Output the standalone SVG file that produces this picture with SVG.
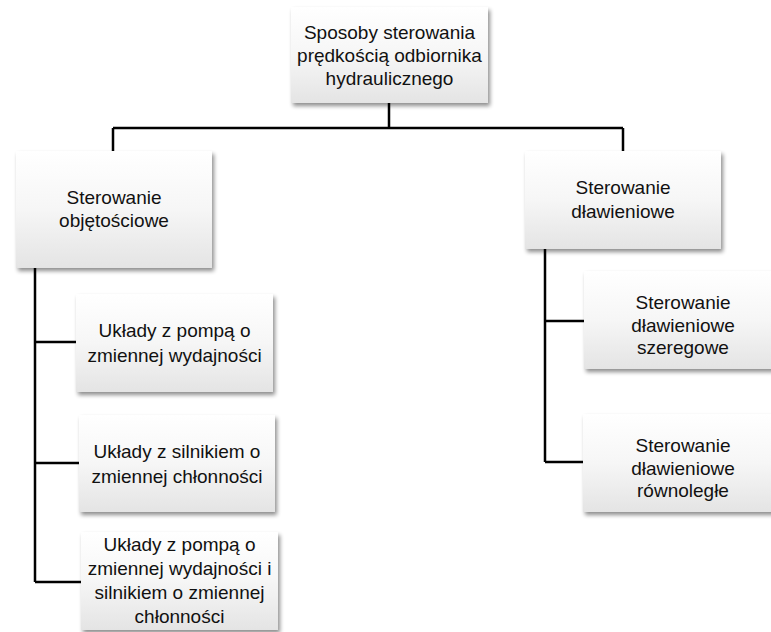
<svg xmlns="http://www.w3.org/2000/svg" width="771" height="632" viewBox="0 0 771 632">
<defs>
<linearGradient id="g" x1="0" y1="0" x2="0" y2="1">
<stop offset="0" stop-color="#ffffff"/>
<stop offset="0.5" stop-color="#f6f6f6"/>
<stop offset="1" stop-color="#e4e4e4"/>
</linearGradient>
<filter id="sh" x="-10%" y="-10%" width="125%" height="130%">
<feGaussianBlur in="SourceAlpha" stdDeviation="2"/>
<feOffset dx="2" dy="3" result="b"/>
<feComponentTransfer><feFuncA type="linear" slope="0.45"/></feComponentTransfer>
<feMerge><feMergeNode/><feMergeNode in="SourceGraphic"/></feMerge>
</filter>
</defs>
<style>
.box{fill:url(#g);filter:url(#sh);}
.t{font-family:"Liberation Sans",Arial,sans-serif;font-size:19px;fill:#111;text-anchor:middle;}
.c{stroke:#000;stroke-width:2.5;fill:none;}
</style>
<rect width="771" height="632" fill="#fff"/>
<g id="connectors">
<path class="c" d="M389 103V128M113 128H623M113 128V151M623 128V151"/>
<path class="c" d="M35 268V582M35 342H76M35 463H79M35 582H81"/>
<path class="c" d="M545 249V462M545 321H584M545 462H583"/>
</g>
<g id="root">
<rect class="box" x="291" y="7" width="197" height="96"/>
<text class="t" x="389.5" y="39">Sposoby sterowania</text>
<text class="t" x="389.5" y="62">prędkością odbiornika</text>
<text class="t" x="389.5" y="85">hydraulicznego</text>
</g>
<g id="objetosciowe">
<rect class="box" x="16" y="151" width="196" height="117"/>
<text class="t" x="114" y="204">Sterowanie</text>
<text class="t" x="114" y="227">objętościowe</text>
</g>
<g id="dlawieniowe">
<rect class="box" x="525" y="151" width="196" height="98"/>
<text class="t" x="623" y="194">Sterowanie</text>
<text class="t" x="623" y="218">dławieniowe</text>
</g>
<g id="pompa">
<rect class="box" x="76" y="294" width="197" height="98"/>
<text class="t" x="174.5" y="337">Układy z pompą o</text>
<text class="t" x="174.5" y="362">zmiennej wydajności</text>
</g>
<g id="silnik">
<rect class="box" x="79" y="415" width="196" height="97"/>
<text class="t" x="177" y="458">Układy z silnikiem o</text>
<text class="t" x="177" y="483">zmiennej chłonności</text>
</g>
<g id="pompa-silnik">
<rect class="box" x="81" y="532" width="197" height="98"/>
<text class="t" x="179.5" y="551">Układy z pompą o</text>
<text class="t" x="179.5" y="575">zmiennej wydajności i</text>
<text class="t" x="179.5" y="599">silnikiem o zmiennej</text>
<text class="t" x="179.5" y="623">chłonności</text>
</g>
<g id="szeregowe">
<rect class="box" x="584" y="271" width="197" height="98"/>
<text class="t" x="683" y="309">Sterowanie</text>
<text class="t" x="683" y="331.5">dławieniowe</text>
<text class="t" x="683" y="354">szeregowe</text>
</g>
<g id="rownolegle">
<rect class="box" x="583" y="414" width="198" height="98"/>
<text class="t" x="683" y="452">Sterowanie</text>
<text class="t" x="683" y="474.5">dławieniowe</text>
<text class="t" x="683" y="497">równoległe</text>
</g>
</svg>
